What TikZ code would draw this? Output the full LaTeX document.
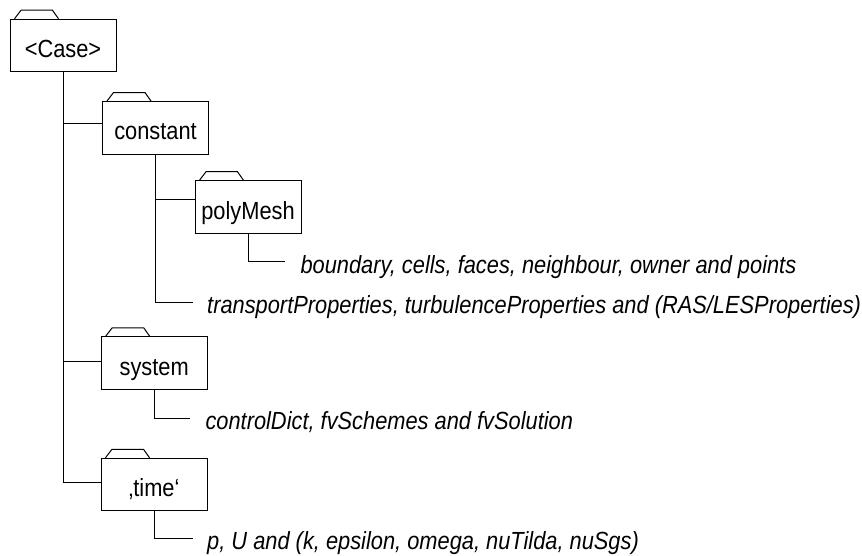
\documentclass[tikz,border=0pt]{standalone}
\usepackage{fontspec}
\setmainfont[FakeStretch=0.88]{Liberation Sans}
\begin{document}
\begin{tikzpicture}[x=1pt,y=-1pt,line width=1pt,
  folder/.style={draw, rectangle, minimum width=106pt, minimum height=52.5pt,
    inner sep=0pt, text height=24pt, text depth=0pt,
    font=\fontsize{24.8}{28}\selectfont},
  leaf/.style={anchor=base west, inner sep=0pt,
    font=\fontsize{24.8}{28}\selectfont\itshape},
  link/.style={draw, line width=1pt}]
\useasboundingbox (0,0) rectangle (862,556);

% folders
\node[folder] (case)     at (63,45.5)    {<Case>};
\node[folder] (constant) at (155.5,127.8) {constant};
\node[folder] (polymesh) at (248,207)    {polyMesh};
\node[folder] (system)   at (154.2,363)  {system};
\node[folder] (time)     at (154,484.5)  {‚time‘};

% folder tabs
\foreach \n in {case,constant,polymesh,system,time}
  \draw ([xshift=5pt]\n.north west) -- ([xshift=11.5pt,yshift=8.5pt]\n.north west)
     -- ([xshift=43pt,yshift=8.5pt]\n.north west) -- ([xshift=49pt]\n.north west);

% free ends of the leaf connectors
\coordinate (bEnd) at (285,261.7);
\coordinate (tEnd) at (193,302.7);
\coordinate (sEnd) at (190,418.3);
\coordinate (pEnd) at (193.3,538.3);

% file lists
\node[leaf] (bnd)  at ([xshift=15pt,yshift=-11.3pt]bEnd) {boundary, cells, faces, neighbour, owner and points};
\node[leaf] (tprp) at ([xshift=13.7pt,yshift=-11pt]tEnd) {transportProperties, turbulenceProperties and (RAS/LESProperties)};
\node[leaf] (ctrl) at ([xshift=15pt,yshift=-11pt]sEnd) {controlDict, fvSchemes and fvSolution};
\node[leaf] (flds) at ([xshift=13.4pt,yshift=-11pt]pEnd) {p, U and (k, epsilon, omega, nuTilda, nuSgs)};

% tree connectors
\draw[link] (case.south) |- ([yshift=4.5pt]constant.west);
\draw[link] (case.south) |- ([yshift=1.3pt]system.west);
\draw[link] (case.south) |- ([yshift=1.8pt]time.west);
\draw[link] (constant.south) |- ([yshift=7.7pt]polymesh.west);
\draw[link] (constant.south) |- (tEnd);
\draw[link] (polymesh.south) |- (bEnd);
\draw[link] (system.south) |- (sEnd);
\draw[link] (time.south) |- (pEnd);
\end{tikzpicture}
\end{document}
